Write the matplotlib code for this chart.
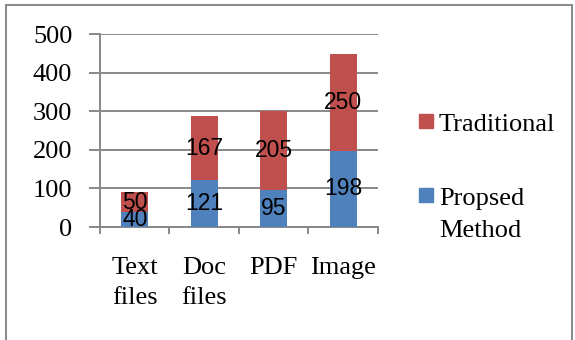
import matplotlib.pyplot as plt
from matplotlib.patches import Rectangle

categories = ['Text\nfiles', 'Doc\nfiles', 'PDF', 'Image']
proposed = [40, 121, 95, 198]
traditional = [50, 167, 205, 250]
yticks = [0, 100, 200, 300, 400, 500]
series_names = ['Traditional', 'Propsed\nMethod']

blue = '#4F81BD'
red = '#C0504D'
grid_c = '#888888'
serif = 'Liberation Serif'

W, H = 575, 340
fig = plt.figure(figsize=(W / 100, H / 100), dpi=100)
ax = fig.add_axes([0.174, 0.332, 0.483, 0.568])

x = list(range(len(categories)))
w = 0.39
b1 = ax.bar(x, proposed, w, color=blue, zorder=3)
b2 = ax.bar(x, traditional, w, bottom=proposed, color=red, zorder=3)

# value labels in the middle of each segment
for bars in (b1, b2):
    ax.bar_label(bars, label_type='center', fontsize=16.5,
                 fontfamily='Liberation Sans', color='black', zorder=4)

ax.set_xlim(-0.5, len(categories) - 0.5)
ax.set_ylim(0, 500)
ax.set_yticks(yticks)
ax.set_yticklabels([str(v) for v in yticks], fontsize=19, fontfamily=serif)
ax.yaxis.grid(True, color=grid_c, linewidth=1.4, zorder=0)

# category ticks sit between the bars
ax.set_xticks([i - 0.5 for i in range(len(categories) + 1)])
ax.set_xticklabels([])
ax.set_xticks(x, minor=True)
ax.set_xticklabels(categories, minor=True, fontsize=19, fontfamily=serif,
                   linespacing=1.47)
ax.tick_params(axis='x', which='minor', length=0, pad=21.5)
ax.tick_params(axis='x', which='major', length=5, width=1.4, color=grid_c)
ax.tick_params(axis='y', length=8, width=1.4, color=grid_c, pad=12)

for s in ('top', 'right'):
    ax.spines[s].set_visible(False)
for s in ('left', 'bottom'):
    ax.spines[s].set_color(grid_c)
    ax.spines[s].set_linewidth(1.4)

# legend: square marker beside the first line of each name
legend_rows = [(series_names[0], red, 131), (series_names[1], blue, 205)]
for name, col, base in legend_rows:
    fig.patches.append(Rectangle((419 / W, 1 - (base - 3) / H), 14 / W, 14 / H,
                                 transform=fig.transFigure, color=col))
    fig.text(439 / W, 1 - base / H, name.split('\n')[0], va='baseline',
             ha='left', fontsize=19, fontfamily=serif)
    for k, extra in enumerate(name.split('\n')[1:], start=1):
        fig.text(439 / W, 1 - (base + 32 * k) / H, extra, va='baseline',
                 ha='left', fontsize=19, fontfamily=serif)

# outer chart border
fig.patches.append(Rectangle((6 / W, -0.05), 566 / W, 1.05 - 5 / H,
                             transform=fig.transFigure, fill=False,
                             edgecolor='#8c8c8c', linewidth=1.5))

fig.savefig('out.png', dpi=100)
